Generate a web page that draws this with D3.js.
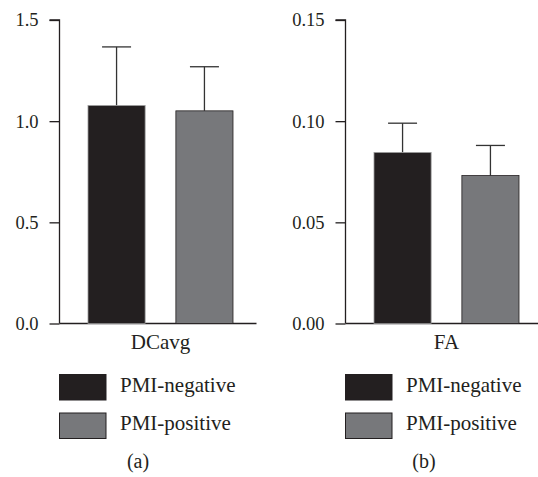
<!DOCTYPE html>
<html>
<head>
<meta charset="utf-8">
<script src="https://cdn.jsdelivr.net/npm/d3@7"></script>
<style>
html,body{margin:0;padding:0;background:#fff;}
svg{display:block;}
svg text{font-family:"Liberation Serif","Times New Roman",Times,"DejaVu Serif",serif;}
</style>
</head>
<body>
<svg id="chart" width="538" height="477"></svg>
<script>
// ---- data ----
const groups = ["PMI-negative", "PMI-positive"];
const colors = ["#231f20", "#77787b"];
const panelA_means = [1.077, 1.051];
const panelA_errors = [0.290, 0.218];
const panelA_ticks = [0.0, 0.5, 1.0, 1.5];
const panelA_tickLabels = ["0.0", "0.5", "1.0", "1.5"];
const panelB_means = [0.0845, 0.0731];
const panelB_errors = [0.0145, 0.0149];
const panelB_ticks = [0.00, 0.05, 0.10, 0.15];
const panelB_tickLabels = ["0.00", "0.05", "0.10", "0.15"];
const panels = [
  {cat: "DCavg", letter: "(a)", means: panelA_means, errs: panelA_errors, ticks: panelA_ticks, labels: panelA_tickLabels, max: 1.5, off: 0},
  {cat: "FA", letter: "(b)", means: panelB_means, errs: panelB_errors, ticks: panelB_ticks, labels: panelB_tickLabels, max: 0.15, off: 286}
];

const svg = d3.select("#chart");
const ink = "#231f20";

panels.forEach(p => {
  const g = svg.append("g").attr("transform", `translate(${p.off},0)`);
  const axisX = 59.5;
  const y = d3.scaleLinear().domain([0, p.max]).range([323.5, 20]);
  const x = d3.scaleBand().domain(groups).range([88, 233]).paddingInner(0.35).paddingOuter(0);

  // y axis
  const yAxis = d3.axisLeft(y).tickValues(p.ticks).tickFormat((d,i) => p.labels[i]).tickSize(10).tickPadding(11);
  const ag = g.append("g").attr("transform", `translate(${axisX},0)`).call(yAxis);
  ag.attr("font-family", null).attr("font-size", null);
  ag.select(".domain").attr("d", `M-10,${y(p.max)}H0V${y(0)}`).attr("stroke", ink).attr("stroke-width", 1.3).attr("fill","none");
  ag.selectAll(".tick line").attr("stroke", ink).attr("stroke-width", 1.3);
  ag.selectAll(".tick text").attr("fill", ink).style("font-size", "18.5px");

  // baseline
  g.append("line").attr("x1", axisX).attr("x2", 256.5).attr("y1", y(0)).attr("y2", y(0))
    .attr("stroke", ink).attr("stroke-width", 1.3);

  // error bars
  groups.forEach((k, i) => {
    const cx = x(k) + x.bandwidth() / 2;
    const top = y(p.means[i] + p.errs[i]);
    g.append("line").attr("x1", cx).attr("x2", cx).attr("y1", y(p.means[i])).attr("y2", top)
      .attr("stroke", "#333").attr("stroke-width", 1.3);
    g.append("line").attr("x1", cx - 14.5).attr("x2", cx + 14.5).attr("y1", top).attr("y2", top)
      .attr("stroke", "#333").attr("stroke-width", 1.3);
  });

  // bars
  g.selectAll("rect.bar").data(groups).join("rect").attr("class", "bar")
    .attr("x", d => x(d)).attr("width", x.bandwidth())
    .attr("y", (d, i) => y(p.means[i])).attr("height", (d, i) => y(0) - y(p.means[i]))
    .attr("fill", (d, i) => colors[i])
    .attr("stroke", (d, i) => i === 0 ? "#9a9a9a" : ink).attr("stroke-width", 0.8);

  // category label
  g.append("text").attr("x", 160.5).attr("y", 348.5).attr("text-anchor", "middle")
    .attr("fill", ink).style("font-size", "21px").text(p.cat);

  // legend
  groups.forEach((k, i) => {
    const ry = 374.5 + i * 38.5;
    g.append("rect").attr("x", 59.5).attr("y", ry).attr("width", 46.5).attr("height", 25.5)
      .attr("fill", colors[i]).attr("stroke", ink).attr("stroke-width", 1);
    g.append("text").attr("x", 120).attr("y", ry + 17.3).attr("fill", ink)
      .style("font-size", "21px").text(k);
  });

  // panel letter
  g.append("text").attr("x", 138).attr("y", 468).attr("text-anchor", "middle")
    .attr("fill", ink).style("font-size", "20px").text(p.letter);
});
</script>
</body>
</html>
